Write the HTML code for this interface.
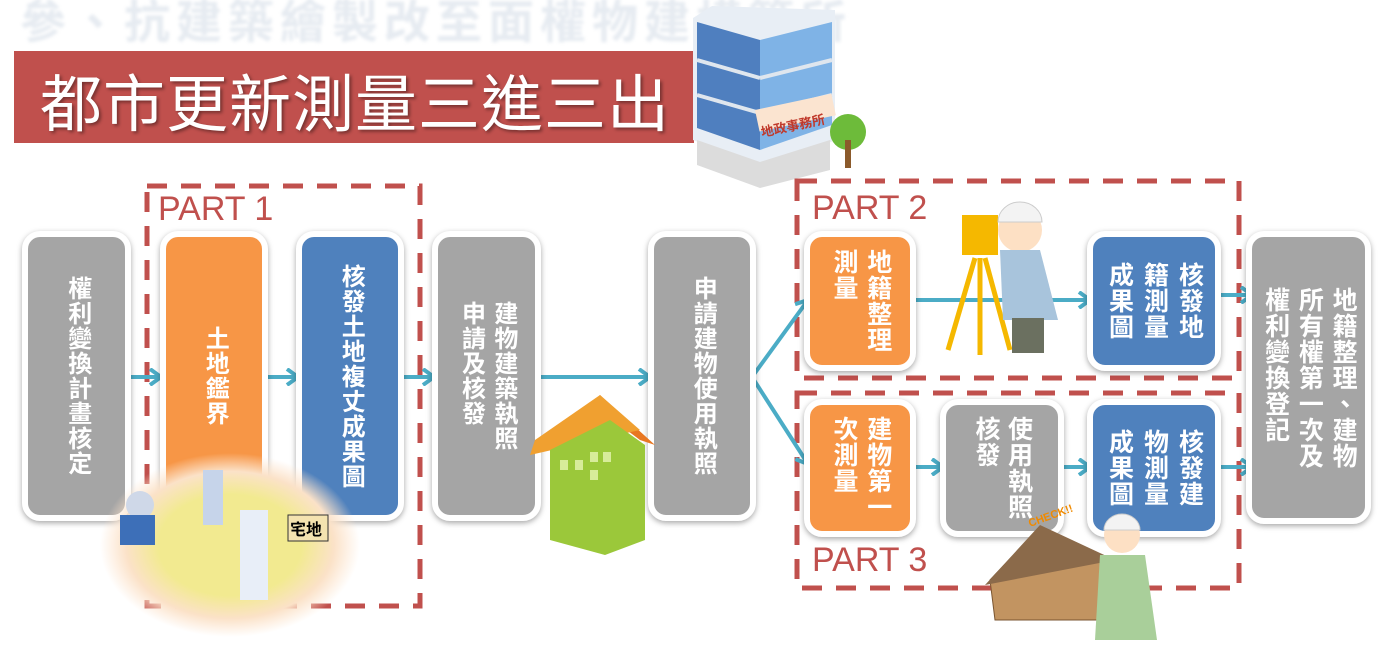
<!DOCTYPE html>
<html><head><meta charset="utf-8"><style>
body{margin:0;width:1378px;height:647px;background:#fff;position:relative;overflow:hidden;font-family:"Liberation Sans","Noto Sans CJK TC",sans-serif}
.b{position:absolute;box-sizing:border-box;border:6px solid #fff;border-radius:18px;box-shadow:0 2px 6px rgba(0,0,0,.35);color:#fff;font-weight:bold;font-size:24px;writing-mode:vertical-rl;display:flex;align-items:center;justify-content:center;line-height:1.35;letter-spacing:1px}
.g{background:#a5a5a5}.o{background:#f79646}.bl{background:#4f81bd}
.p{position:absolute;color:#c0504d;font-size:34px;font-family:"Liberation Sans",sans-serif}
</style></head><body>
<div style="position:absolute;left:20px;top:-14px;font-size:46px;color:#e6ebf1;font-weight:bold;letter-spacing:6px;filter:blur(1.5px)">參、抗建築繪製改至面權物建構築所</div>
<div style="position:absolute;left:14px;top:51px;width:680px;height:92px;background:#c0504d"></div>
<div style="position:absolute;left:40px;top:54px;font-size:62px;color:#fff;letter-spacing:1px;text-shadow:2px 2px 3px rgba(0,0,0,.4)">都市更新測量三進三出</div>

<svg width="1378" height="647" style="position:absolute;left:0;top:0">
<defs><marker id="a" markerWidth="16" markerHeight="18" refX="13" refY="9" orient="auto" markerUnits="userSpaceOnUse"><path d="M2,1 L13,9 L2,17" fill="none" stroke="#4bacc6" stroke-width="4"/></marker></defs>
<g>
<polygon points="693,18 712,6 835,10 835,140 770,170 693,140" fill="#e8eef5"/>
<polygon points="697,22 760,40 760,150 697,128" fill="#4f7fbf"/>
<polygon points="760,40 832,22 832,125 760,150" fill="#7fb3e6"/>
<g stroke="#dfe6ee" stroke-width="4"><line x1="697" y1="60" x2="760" y2="78"/><line x1="760" y1="78" x2="832" y2="60"/><line x1="697" y1="95" x2="760" y2="113"/><line x1="760" y1="113" x2="832" y2="95"/></g>
<rect x="755" y="110" width="78" height="22" fill="#fbe4d0" transform="rotate(-12 755 110)"/>
<text x="762" y="137" font-size="13" fill="#c0392b" font-weight="bold" transform="rotate(-12 762 137)" font-family="Noto Sans CJK TC,sans-serif">地政事務所</text>
<polygon points="697,140 760,162 830,140 830,170 760,188 697,165" fill="#dcdcdc"/>
<circle cx="848" cy="132" r="18" fill="#6dbb3a"/><rect x="845" y="140" width="6" height="28" fill="#8b5a2b"/>
</g>
<g fill="none" stroke="#c0504d" stroke-width="5" stroke-dasharray="20 14">
<rect x="147" y="186" width="273" height="420"/>
<rect x="797" y="181" width="442" height="197"/>
<rect x="797" y="393" width="442" height="195"/>
</g>
<g stroke="#4bacc6" stroke-width="4" fill="none" marker-end="url(#a)">
<line x1="128" y1="377" x2="161" y2="377"/>
<line x1="265" y1="377" x2="298" y2="377"/>
<line x1="401" y1="377" x2="434" y2="377"/>
<line x1="538" y1="377" x2="650" y2="377"/>
<polyline points="752,377 808,300" />
<polyline points="752,377 808,464" />
<line x1="912" y1="300" x2="1090" y2="300"/>
<line x1="1218" y1="295" x2="1252" y2="295"/>
<line x1="912" y1="467" x2="943" y2="467"/>
<line x1="1060" y1="467" x2="1090" y2="467"/>
<line x1="1218" y1="467" x2="1252" y2="467"/>
</g>
</svg>

<div class="p" style="left:158px;top:190px">PART 1</div>
<div class="p" style="left:812px;top:189px">PART 2</div>
<div class="p" style="left:812px;top:541px">PART 3</div>

<div class="b g" style="left:22px;top:231px;width:109px;height:290px">權利變換計畫核定</div>
<div class="b o" style="left:160px;top:231px;width:108px;height:290px">土地鑑界</div>
<div class="b bl" style="left:296px;top:231px;width:108px;height:290px">核發土地複丈成果圖</div>
<div class="b g" style="left:432px;top:231px;width:109px;height:290px">建物建築執照<br>申請及核發</div>
<div class="b g" style="left:648px;top:231px;width:108px;height:290px">申請建物使用執照</div>
<div class="b o" style="left:804px;top:231px;width:112px;height:140px;font-size:25px">地籍整理<br>測量</div>
<div class="b bl" style="left:1087px;top:231px;width:134px;height:140px;font-size:25px;line-height:1.4">核發地<br>籍測量<br>成果圖</div>
<div class="b g" style="left:1246px;top:231px;width:125px;height:293px;font-size:25px">地籍整理、建物<br>所有權第一次及<br>權利變換登記</div>
<div class="b o" style="left:804px;top:399px;width:112px;height:138px;font-size:25px">建物第一<br>次測量</div>
<div class="b g" style="left:940px;top:399px;width:124px;height:138px;font-size:25px;line-height:1.3">使用執照<br>核發</div>
<div class="b bl" style="left:1087px;top:399px;width:134px;height:138px;font-size:25px;line-height:1.4">核發建<br>物測量<br>成果圖</div>

<svg width="1378" height="647" style="position:absolute;left:0;top:0">
<defs><radialGradient id="r"><stop offset="0.55" stop-color="#f2ea90"/><stop offset="0.8" stop-color="#fbe2c8"/><stop offset="1" stop-color="#fde3cc" stop-opacity="0"/></radialGradient></defs>
<ellipse cx="230" cy="545" rx="130" ry="92" fill="url(#r)"/>
<circle cx="140" cy="505" r="14" fill="#cfd8e8"/><path d="M120,515 h35 v30 h-35z" fill="#3d6fb8"/>
<rect x="203" y="470" width="20" height="55" fill="#c6d4ea"/>
<rect x="240" y="510" width="28" height="90" fill="#e8eef8"/><rect x="288" y="515" width="40" height="26" fill="#f4e3b0" stroke="#333"/>
<text x="290" y="535" font-size="16" font-weight="bold" font-family="Noto Sans CJK TC,sans-serif">宅地</text>
<polygon points="555,445 600,395 655,445 640,440 600,410 560,450" fill="#e87722"/>
<polygon points="535,440 600,395 640,430 530,455" fill="#f0a030"/>
<polygon points="550,450 610,420 645,445 645,540 605,555 550,540" fill="#9bc83a"/>
<g fill="#d7ec9a"><rect x="560" y="460" width="8" height="10"/><rect x="575" y="460" width="8" height="10"/><rect x="590" y="452" width="8" height="10"/><rect x="603" y="452" width="8" height="10"/><rect x="590" y="470" width="8" height="10"/></g>
<rect x="962" y="215" width="36" height="40" fill="#f5b800"/>
<line x1="975" y1="258" x2="948" y2="350" stroke="#f5b800" stroke-width="5"/>
<line x1="980" y1="258" x2="980" y2="355" stroke="#f5b800" stroke-width="5"/>
<line x1="985" y1="258" x2="1010" y2="350" stroke="#f5b800" stroke-width="5"/>
<circle cx="1020" cy="230" r="22" fill="#fde0c4"/><path d="M998,222 a22,20 0 0 1 44,0z" fill="#f3f3f3" stroke="#ccc"/>
<path d="M1000,250 h40 l18,70 h-55z" fill="#a8c4dc"/><rect x="1012" y="318" width="32" height="35" fill="#6b7060"/>
<polygon points="990,580 1040,527 1100,560 1100,620 995,620" fill="#c29461" stroke="#7a5530"/>
<polygon points="985,585 1040,525 1115,560" fill="#8b6a4a"/>
<text x="1030" y="527" font-size="11" fill="#f08a00" font-weight="bold" transform="rotate(-20 1030 527)">CHECK!!</text>
<circle cx="1122" cy="535" r="18" fill="#fde0c4"/><path d="M1104,530 a18,16 0 0 1 36,0z" fill="#f3f3f3" stroke="#ccc"/>
<path d="M1100,555 h45 l12,85 h-62z" fill="#a9cf9a"/>
</svg>
</body></html>
